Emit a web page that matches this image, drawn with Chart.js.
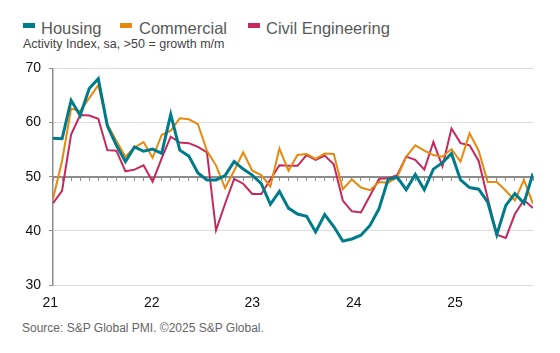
<!DOCTYPE html>
<html>
<head>
<meta charset="utf-8">
<script src="https://cdn.jsdelivr.net/npm/chart.js@4/dist/chart.umd.min.js"></script>
<style>
  body { margin: 0; background: #fff; width: 560px; height: 353px; position: relative; overflow: hidden;
         font-family: "Liberation Sans", Arial, sans-serif; }
  .legend { position: absolute; top: 19px; left: 0; height: 20px; font-size: 16.5px; color: #595959; }
  .legend span { position: absolute; white-space: nowrap; }
  .legend i { position: absolute; width: 12px; height: 5px; top: 4px; }
  .sub { position: absolute; left: 23px; top: 37px; font-size: 12.5px; color: #444; white-space: nowrap; }
  .source { position: absolute; left: 22px; top: 321px; font-size: 12px; color: #666; white-space: nowrap; }
  #wrap { position: absolute; left: 0; top: 52px; width: 560px; height: 268px; }
</style>
</head>
<body>
<div class="legend">
  <i style="left:23px;background:#007b8a"></i><span style="left:41px">Housing</span>
  <i style="left:120px;background:#e8890f"></i><span style="left:139px">Commercial</span>
  <i style="left:248px;background:#c6285c"></i><span style="left:266px">Civil Engineering</span>
</div>
<div class="sub">Activity Index, sa, &gt;50 = growth m/m</div>
<div id="wrap"><canvas id="myCanvas" width="560" height="268"></canvas></div>
<div class="source">Source: S&amp;P Global PMI. ©2025 S&amp;P Global.</div>
<script>
// monthly, Jan 2021 .. Jun 2025
const monthNames = ["Jan","Feb","Mar","Apr","May","Jun","Jul","Aug","Sep","Oct","Nov","Dec"];
const months = [];
for (let y = 2021; y <= 2025; y++) {
  for (let m = 0; m < 12; m++) {
    if (y === 2025 && m > 5) break;
    months.push(monthNames[m] + " " + y);
  }
}

const housing = [
  57.1, 57.0, 64.1, 61.3, 66.3, 68.1, 59.4, 55.8, 52.8, 55.5, 54.7, 55.1,
  54.3, 61.5, 54.9, 53.8, 50.7, 49.4, 49.4, 50.2, 52.8, 51.4, 50.3, 48.7,
  44.9, 47.3, 44.2, 43.1, 42.7, 39.8, 43.0, 40.8, 38.1, 38.5, 39.2, 41.0,
  44.1, 49.5, 49.9, 47.6, 50.4, 47.6, 51.4, 52.6, 54.3, 49.4, 48.0, 47.7,
  45.3, 39.3, 44.7, 46.9, 45.1, 50.6
];
const commercial = [
  45.9, 52.9, 62.6, 62.1, 64.5, 66.9, 59.7, 56.6, 53.7, 55.4, 56.4, 53.5,
  57.7, 58.5, 60.8, 60.6, 59.7, 54.8, 52.1, 47.9, 51.1, 54.5, 51.1, 50.3,
  48.2, 55.2, 51.1, 54.0, 54.2, 53.3, 54.3, 54.2, 47.7, 49.5, 48.0, 47.5,
  49.0, 48.9, 49.9, 53.7, 55.8, 54.8, 54.0, 53.7, 55.1, 52.8, 58.0, 54.8,
  49.0, 49.0, 47.4, 45.6, 49.4, 45.0
];
const civil = [
  45.1, 47.4, 57.8, 61.4, 61.3, 60.7, 54.9, 54.8, 51.0, 51.3, 52.1, 49.1,
  53.4, 57.4, 56.3, 56.2, 55.5, 54.5, 40.1, 45.0, 49.6, 48.7, 46.8, 46.8,
  49.5, 52.1, 52.0, 52.0, 54.0, 53.1, 53.9, 52.3, 45.6, 43.6, 43.4, 46.5,
  49.6, 49.7, 50.3, 53.7, 53.1, 51.3, 56.4, 51.9, 58.9, 56.2, 55.8, 52.9,
  46.0, 39.3, 38.7, 43.1, 45.7, 44.2
];

// year labels sit where the original axis puts them (month index)
const yearTickPos = [-0.3, 10.9, 22.0, 33.2, 44.4];
const yearLabels = ["21", "22", "23", "24", "25"];
const yTicks = [30, 40, 50, 60, 70];

const pts = (arr) => arr.map((v, i) => ({ x: i, y: v }));
const lastIdx = months.length - 1;

new Chart(document.getElementById("myCanvas"), {
  type: "line",
  data: {
    labels: months,
    datasets: [
      { label: "Housing", data: pts(housing), borderColor: "#007b8a", borderWidth: 3, pointRadius: 0, tension: 0 },
      { label: "Commercial", data: pts(commercial), borderColor: "#e8890f", borderWidth: 2, pointRadius: 0, tension: 0 },
      { label: "Civil Engineering", data: pts(civil), borderColor: "#c6285c", borderWidth: 2, pointRadius: 0, tension: 0 },
    ],
  },
  options: {
    responsive: false,
    animation: false,
    layout: { padding: { left: 0, right: 27, top: 12, bottom: 0 } },
    plugins: { legend: { display: false }, tooltip: { enabled: false } },
    scales: {
      x: {
        type: "linear",
        min: 0,
        max: lastIdx,
        grid: { display: false, drawTicks: false },
        border: { display: false },
        afterBuildTicks: (scale) => { scale.ticks = yearTickPos.map((v) => ({ value: v })); },
        afterFit: (scale) => { scale.height = 35; },
        ticks: {
          autoSkip: false,
          maxRotation: 0,
          padding: 10,
          color: "#111",
          font: { family: "'Liberation Sans', Arial", size: 14 },
          callback: (v, i) => yearLabels[i],
        },
      },
      x50: {
        type: "linear",
        min: 0,
        max: lastIdx,
        position: { y: 50 },
        grid: { drawOnChartArea: false, drawTicks: true, tickLength: 3, tickColor: "#8c8c8c", tickWidth: 1 },
        border: { display: true, color: "#8c8c8c", width: 2 },
        ticks: { display: false, stepSize: 1, autoSkip: false },
      },
      y: {
        min: 30,
        max: 70,
        afterBuildTicks: (scale) => { scale.ticks = yTicks.map((v) => ({ value: v })); },
        afterFit: (scale) => { scale.width = 53; },
        grid: { color: "#dcdcdc", lineWidth: 1, drawTicks: true, tickLength: 4, tickColor: "#8c8c8c" },
        border: { display: true, color: "#8c8c8c", width: 1.5 },
        ticks: {
          padding: 8,
          color: "#111",
          font: { family: "'Liberation Sans', Arial", size: 14 },
        },
      },
    },
  },
});
</script>
</body>
</html>
